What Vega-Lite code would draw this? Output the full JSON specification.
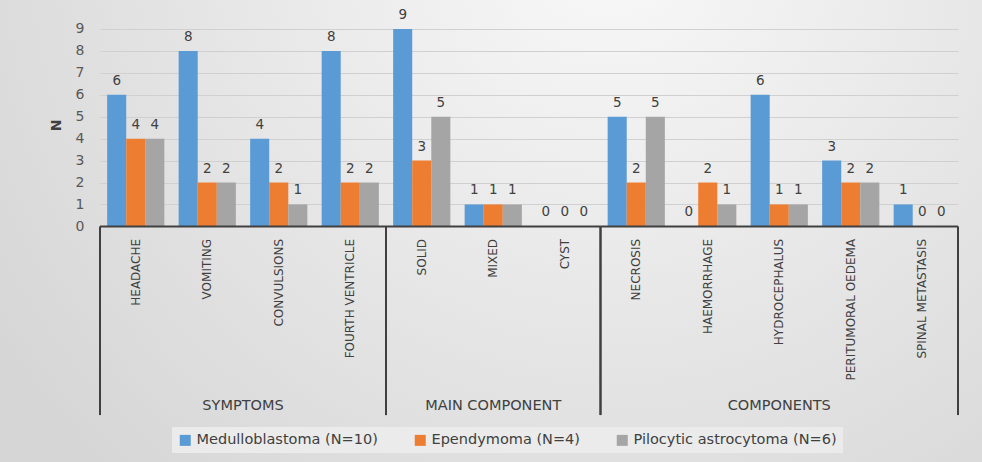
{
  "$schema": "https://vega.github.io/schema/vega-lite/v6.json",
  "width": 982,
  "height": 462,
  "padding": 0,
  "autosize": {"type": "none"},
  "background": "#dedede",
  "view": {
    "stroke": null,
    "fill": {
      "gradient": "radial",
      "x1": 0.62, "y1": 0.2, "r1": 0,
      "x2": 0.62, "y2": 0.2, "r2": 0.75,
      "stops": [
        {"offset": 0, "color": "#f9f9f9"},
        {"offset": 1, "color": "#d6d6d6"}
      ]
    }
  },
  "config": {"font": "DejaVu Sans"},
  "datasets": {
    "main": [
      {"category": "HEADACHE", "series": "Medulloblastoma (N=10)", "value": 6},
      {"category": "HEADACHE", "series": "Ependymoma (N=4)", "value": 4},
      {"category": "HEADACHE", "series": "Pilocytic astrocytoma (N=6)", "value": 4},
      {"category": "VOMITING", "series": "Medulloblastoma (N=10)", "value": 8},
      {"category": "VOMITING", "series": "Ependymoma (N=4)", "value": 2},
      {"category": "VOMITING", "series": "Pilocytic astrocytoma (N=6)", "value": 2},
      {"category": "CONVULSIONS", "series": "Medulloblastoma (N=10)", "value": 4},
      {"category": "CONVULSIONS", "series": "Ependymoma (N=4)", "value": 2},
      {"category": "CONVULSIONS", "series": "Pilocytic astrocytoma (N=6)", "value": 1},
      {"category": "FOURTH VENTRICLE", "series": "Medulloblastoma (N=10)", "value": 8},
      {"category": "FOURTH VENTRICLE", "series": "Ependymoma (N=4)", "value": 2},
      {"category": "FOURTH VENTRICLE", "series": "Pilocytic astrocytoma (N=6)", "value": 2},
      {"category": "SOLID", "series": "Medulloblastoma (N=10)", "value": 9},
      {"category": "SOLID", "series": "Ependymoma (N=4)", "value": 3},
      {"category": "SOLID", "series": "Pilocytic astrocytoma (N=6)", "value": 5},
      {"category": "MIXED", "series": "Medulloblastoma (N=10)", "value": 1},
      {"category": "MIXED", "series": "Ependymoma (N=4)", "value": 1},
      {"category": "MIXED", "series": "Pilocytic astrocytoma (N=6)", "value": 1},
      {"category": "CYST", "series": "Medulloblastoma (N=10)", "value": 0},
      {"category": "CYST", "series": "Ependymoma (N=4)", "value": 0},
      {"category": "CYST", "series": "Pilocytic astrocytoma (N=6)", "value": 0},
      {"category": "NECROSIS", "series": "Medulloblastoma (N=10)", "value": 5},
      {"category": "NECROSIS", "series": "Ependymoma (N=4)", "value": 2},
      {"category": "NECROSIS", "series": "Pilocytic astrocytoma (N=6)", "value": 5},
      {"category": "HAEMORRHAGE", "series": "Medulloblastoma (N=10)", "value": 0},
      {"category": "HAEMORRHAGE", "series": "Ependymoma (N=4)", "value": 2},
      {"category": "HAEMORRHAGE", "series": "Pilocytic astrocytoma (N=6)", "value": 1},
      {"category": "HYDROCEPHALUS", "series": "Medulloblastoma (N=10)", "value": 6},
      {"category": "HYDROCEPHALUS", "series": "Ependymoma (N=4)", "value": 1},
      {"category": "HYDROCEPHALUS", "series": "Pilocytic astrocytoma (N=6)", "value": 1},
      {"category": "PERITUMORAL OEDEMA", "series": "Medulloblastoma (N=10)", "value": 3},
      {"category": "PERITUMORAL OEDEMA", "series": "Ependymoma (N=4)", "value": 2},
      {"category": "PERITUMORAL OEDEMA", "series": "Pilocytic astrocytoma (N=6)", "value": 2},
      {"category": "SPINAL METASTASIS", "series": "Medulloblastoma (N=10)", "value": 1},
      {"category": "SPINAL METASTASIS", "series": "Ependymoma (N=4)", "value": 0},
      {"category": "SPINAL METASTASIS", "series": "Pilocytic astrocytoma (N=6)", "value": 0}
    ],
    "groups": [
      {"group": "SYMPTOMS", "start": 0, "end": 4, "mid": 2},
      {"group": "MAIN COMPONENT", "start": 4, "end": 7, "mid": 5.5},
      {"group": "COMPONENTS", "start": 7, "end": 12, "mid": 9.5}
    ]
  },
  "resolve": {"scale": {"x": "independent"}},
  "layer": [
    {
      "data": {"name": "main"},
      "mark": {"type": "bar"},
      "encoding": {
        "x": {
          "field": "category", "type": "nominal", "axis": null,
          "scale": {
            "domain": ["HEADACHE", "VOMITING", "CONVULSIONS", "FOURTH VENTRICLE", "SOLID", "MIXED", "CYST", "NECROSIS", "HAEMORRHAGE", "HYDROCEPHALUS", "PERITUMORAL OEDEMA", "SPINAL METASTASIS"],
            "range": [100, 958], "paddingInner": 0.2, "paddingOuter": 0.1
          }
        },
        "xOffset": {
          "field": "series", "type": "nominal",
          "scale": {"domain": ["Medulloblastoma (N=10)", "Ependymoma (N=4)", "Pilocytic astrocytoma (N=6)"]}
        },
        "y": {
          "field": "value", "type": "quantitative",
          "scale": {"domain": [-10.74, 10.32], "nice": false, "zero": false},
          "axis": {
            "values": [0, 1, 2, 3, 4, 5, 6, 7, 8, 9],
            "offset": -100,
            "domain": false, "ticks": false,
            "grid": true, "gridColor": "#d0d0d0", "gridWidth": 1,
            "labelFontSize": 14, "labelColor": "#595959", "labelPadding": 16,
            "title": "N", "titleFontSize": 14, "titleFontWeight": "bold", "titleColor": "#404040",
            "titleX": -37, "titleY": 125, "titleAngle": 270, "titleBaseline": "bottom", "titleAlign": "center"
          }
        },
        "color": {
          "field": "series", "type": "nominal",
          "scale": {
            "domain": ["Medulloblastoma (N=10)", "Ependymoma (N=4)", "Pilocytic astrocytoma (N=6)"],
            "range": ["#5B9BD5", "#ED7D31", "#A5A5A5"]
          },
          "legend": {
            "orient": "none", "legendX": 172, "legendY": 427,
            "direction": "horizontal", "title": null,
            "symbolType": "square", "symbolSize": 121, "symbolStrokeWidth": 0,
            "labelFontSize": 14.5, "labelColor": "#404040", "labelFont": "DejaVu Sans",
            "labelOffset": 4, "columnPadding": 35, "padding": 6,
            "fillColor": "#ebebeb", "labelLimit": 400
          }
        }
      }
    },
    {
      "data": {"name": "main"},
      "mark": {"type": "text", "baseline": "bottom", "dy": -7, "fontSize": 13.5, "color": "#404040"},
      "encoding": {
        "x": {
          "field": "category", "type": "nominal", "axis": null,
          "scale": {
            "domain": ["HEADACHE", "VOMITING", "CONVULSIONS", "FOURTH VENTRICLE", "SOLID", "MIXED", "CYST", "NECROSIS", "HAEMORRHAGE", "HYDROCEPHALUS", "PERITUMORAL OEDEMA", "SPINAL METASTASIS"],
            "range": [100, 958], "paddingInner": 0.2, "paddingOuter": 0.1
          }
        },
        "xOffset": {
          "field": "series", "type": "nominal",
          "scale": {"domain": ["Medulloblastoma (N=10)", "Ependymoma (N=4)", "Pilocytic astrocytoma (N=6)"]}
        },
        "y": {"field": "value", "type": "quantitative"},
        "text": {"field": "value", "type": "quantitative"}
      }
    },
    {
      "data": {"name": "main"},
      "transform": [{"filter": "datum.series === 'Medulloblastoma (N=10)'"}],
      "mark": {"type": "text", "angle": 270, "align": "right", "baseline": "middle", "fontSize": 12, "color": "#404040"},
      "encoding": {
        "x": {
          "field": "category", "type": "nominal", "axis": null,
          "scale": {
            "domain": ["HEADACHE", "VOMITING", "CONVULSIONS", "FOURTH VENTRICLE", "SOLID", "MIXED", "CYST", "NECROSIS", "HAEMORRHAGE", "HYDROCEPHALUS", "PERITUMORAL OEDEMA", "SPINAL METASTASIS"],
            "range": [100, 958], "paddingInner": 0.2, "paddingOuter": 0.1
          }
        },
        "y": {"datum": -0.57},
        "text": {"field": "category", "type": "nominal"}
      }
    },
    {
      "data": {"name": "groups"},
      "mark": {"type": "rule", "color": "#404040", "strokeWidth": 2},
      "encoding": {
        "x": {"field": "start", "type": "quantitative", "axis": null, "scale": {"domain": [-1.3986, 12.3357], "nice": false, "zero": false}},
        "y": {"datum": 0},
        "y2": {"datum": -8.6}
      }
    },
    {
      "data": {"name": "groups"},
      "mark": {"type": "rule", "color": "#404040", "strokeWidth": 2},
      "encoding": {
        "x": {"field": "end", "type": "quantitative", "axis": null, "scale": {"domain": [-1.3986, 12.3357], "nice": false, "zero": false}},
        "y": {"datum": 0},
        "y2": {"datum": -8.6}
      }
    },
    {
      "data": {"name": "groups"},
      "mark": {"type": "rule", "color": "#404040", "strokeWidth": 2},
      "encoding": {
        "x": {"field": "start", "type": "quantitative", "axis": null, "scale": {"domain": [-1.3986, 12.3357], "nice": false, "zero": false}},
        "x2": {"field": "end"},
        "y": {"datum": 0}
      }
    },
    {
      "data": {"name": "groups"},
      "mark": {"type": "text", "baseline": "middle", "align": "center", "fontSize": 14.5, "color": "#404040"},
      "encoding": {
        "x": {"field": "mid", "type": "quantitative", "axis": null, "scale": {"domain": [-1.3986, 12.3357], "nice": false, "zero": false}},
        "y": {"datum": -8.17},
        "text": {"field": "group", "type": "nominal"}
      }
    }
  ]
}
